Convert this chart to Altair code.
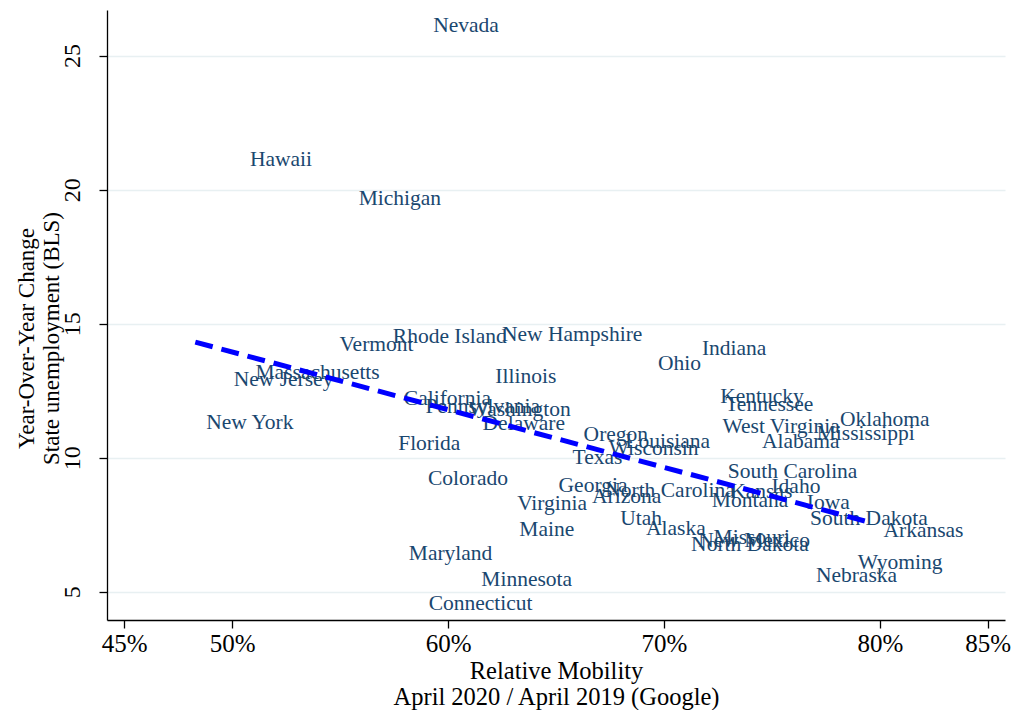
import altair as alt
import pandas as pd

states = [
    "Nevada", "Hawaii", "Michigan", "Colorado", "Virginia", "Maine", "Maryland",
    "Minnesota", "Connecticut", "Georgia", "Arizona", "North Carolina", "Kansas",
    "Montana", "Idaho", "South Carolina", "Iowa", "South Dakota", "Arkansas",
    "Wyoming", "Nebraska", "Oklahoma", "Mississippi", "Alabama", "West Virginia",
    "Kentucky", "Tennessee", "Indiana", "Ohio", "New Hampshire", "Rhode Island",
    "Vermont", "Illinois", "Massachusetts", "New Jersey", "New York", "California",
    "Pennsylvania", "Washington", "Delaware", "Florida", "Oregon", "Louisiana",
    "Wisconsin", "Texas", "Utah", "Alaska", "North Dakota", "Missouri", "New Mexico",
]
mobility = [
    58.80, 50.31, 55.35, 58.56, 62.69, 62.79, 57.67,
    61.03, 58.59, 64.61, 66.16, 66.77, 72.56,
    71.71, 74.47, 72.45, 76.11, 76.26, 79.66,
    78.47, 76.53, 77.65, 76.57, 74.03, 72.20,
    72.10, 72.33, 71.25, 69.21, 61.99, 56.93,
    54.46, 61.68, 50.57, 49.56, 48.29, 57.44,
    58.44, 60.44, 61.09, 57.18, 65.77, 67.70,
    66.93, 65.26, 67.47, 68.66, 70.75, 71.79, 71.08,
]
unemp_change = [
    26.09, 21.09, 19.66, 9.22, 8.29, 7.29, 6.40,
    5.46, 4.56, 8.94, 8.54, 8.75, 8.71,
    8.37, 8.91, 9.46, 8.31, 7.70, 7.28,
    6.09, 5.59, 11.42, 10.90, 10.60, 11.16,
    12.28, 11.98, 14.06, 13.49, 14.59, 14.50,
    14.20, 13.02, 13.17, 12.91, 11.28, 12.21,
    11.91, 11.80, 11.27, 10.50, 10.85, 10.58,
    10.34, 10.01, 7.71, 7.34, 6.74, 7.00, 6.90,
]
x_ticks = [45, 50, 60, 70, 80, 85]
y_ticks = [5, 10, 15, 20, 25]

df = pd.DataFrame({"state": states, "mobility": mobility, "unemp": unemp_change})

FONT = "Liberation Serif"

x_enc = alt.X(
    "mobility:Q",
    scale=alt.Scale(domain=[44.2, 85.8], nice=False, zero=False),
    axis=alt.Axis(
        values=x_ticks,
        labelExpr="datum.value + '%'",
        title=["Relative Mobility", "April 2020 / April  2019 (Google)"],
        grid=False,
    ),
)
y_enc = alt.Y(
    "unemp:Q",
    scale=alt.Scale(domain=[3.95, 26.7], nice=False, zero=False),
    axis=alt.Axis(
        values=y_ticks,
        title=["Year-Over-Year Change", "State unemployment (BLS)"],
        grid=True,
        labelAngle=270,
        labelAlign="center",
        labelBaseline="bottom",
        titleY=328,
    ),
)

labels = alt.Chart(df).mark_text(
    align="left", baseline="middle", dx=11, font=FONT, fontSize=21.5, color="#1a476f"
).encode(x=x_enc, y=y_enc, text="state:N")

fit = alt.Chart(df).transform_regression("mobility", "unemp").mark_line(
    color="#0000ff", strokeWidth=5, strokeDash=[18, 9]
).encode(x="mobility:Q", y="unemp:Q")

chart = (
    alt.layer(labels, fit)
    .properties(
        width=898,
        height=610,
        autosize=alt.AutoSizeParams(type="none"),
        padding={"left": 99, "top": 2, "right": 7, "bottom": 90},
    )
    .configure_view(stroke=None)
    .configure_axis(
        labelFont=FONT,
        titleFont=FONT,
        labelColor="black",
        titleColor="black",
        titleFontWeight="normal",
        domainColor="black",
        domainWidth=1.3,
        tickColor="black",
        tickWidth=1.3,
        tickSize=8,
        gridColor="#e8f0f2",
        gridWidth=1.6,
    )
    .configure_axisX(labelFontSize=25, labelPadding=3, titleFontSize=24.5, titlePadding=3, titleLineHeight=26)
    .configure_axisY(labelFontSize=24, labelPadding=15, titleFontSize=23, titlePadding=-3, titleLineHeight=25)
)

chart.save("out.html", embed_options={"renderer": "svg", "actions": False})
